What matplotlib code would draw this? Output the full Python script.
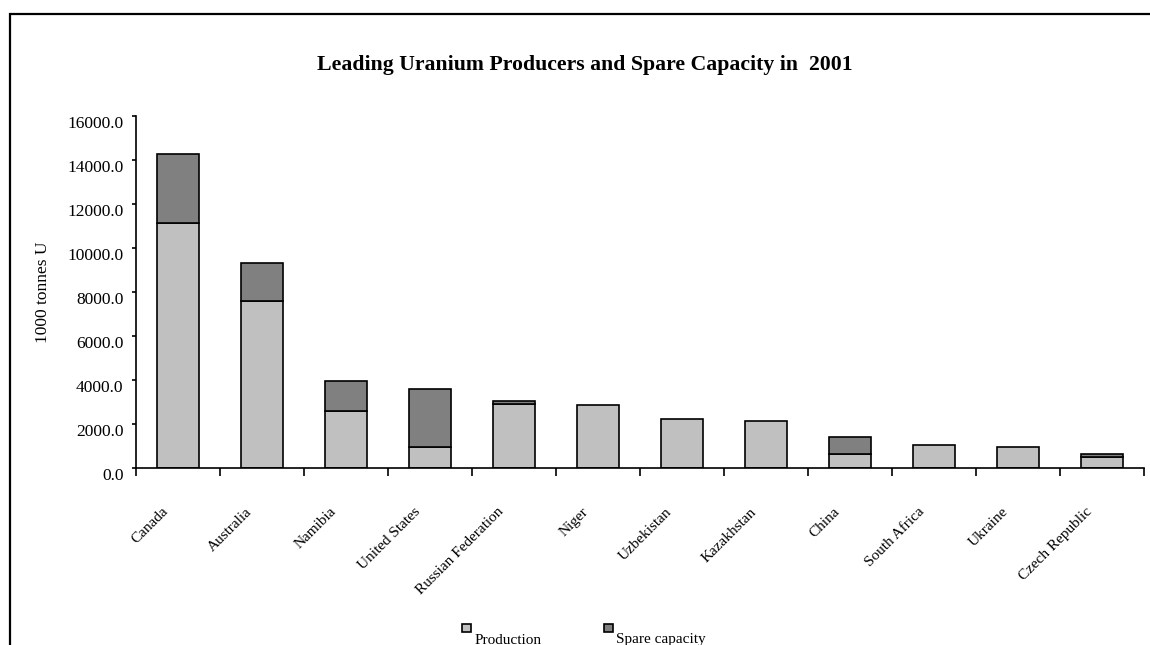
import numpy as np
import matplotlib
matplotlib.use("Agg")
import matplotlib.pyplot as plt
from matplotlib.patches import Rectangle, Patch
from matplotlib.transforms import ScaledTranslation

countries = ["Canada", "Australia", "Namibia", "United States",
             "Russian Federation", "Niger", "Uzbekistan", "Kazakhstan",
             "China", "South Africa", "Ukraine", "Czech Republic"]
production = [11150, 7600, 2590, 970, 2910, 2880, 2240, 2150, 620, 1060, 970, 490]
spare_capacity = [3110, 1730, 1380, 2630, 150, 0, 0, 0, 800, 0, 0, 150]
y_ticks = [0, 2000, 4000, 6000, 8000, 10000, 12000, 14000, 16000]

plt.rcParams['font.family'] = ['Liberation Serif', 'DejaVu Serif']

fig = plt.figure(figsize=(11.5, 6.45), dpi=100)
ax = fig.add_axes([136 / 1150, 1 - 468 / 645, (1144 - 136) / 1150, (468 - 116) / 645])

# outer chart frame, open at the right and bottom edges
fig.add_artist(Rectangle((10 / 1150, -0.1), 1.2, 1 - 14.5 / 645 + 0.1,
                         transform=fig.transFigure, fill=False,
                         edgecolor='black', linewidth=1.6))

x = np.arange(len(countries))
ax.bar(x, production, width=0.5, color='#c0c0c0',
       edgecolor='black', linewidth=1.2)
spare = np.array(spare_capacity)
ax.bar(x[spare > 0], spare[spare > 0], width=0.5,
       bottom=np.array(production)[spare > 0], color='#808080',
       edgecolor='black', linewidth=1.2)

ax.set_xlim(-0.5, len(countries) - 0.5)
ax.set_ylim(0, 16000)
ax.set_yticks(y_ticks)
ax.set_yticklabels([f"{v:.1f}" for v in y_ticks], fontsize=12.5)
ax.tick_params(axis='y', direction='out', length=3, width=1.2, pad=6)
down = ScaledTranslation(0, -6 / 100, fig.dpi_scale_trans)
for lbl in ax.get_yticklabels():
    lbl.set_transform(lbl.get_transform() + down)

# boundary ticks on the x axis, labels at the bar centres
ax.set_xticks(np.arange(len(countries) + 1) - 0.5)
ax.set_xticklabels([])
ax.tick_params(axis='x', which='major', direction='out', length=6, width=1.2)
ax.set_xticks(x, minor=True)
ax.set_xticklabels(countries, minor=True, rotation=45, ha='right',
                   va='center', rotation_mode='anchor', fontsize=11)
ax.tick_params(axis='x', which='minor', length=0, pad=30)
shift = ScaledTranslation(-12 / 100, 0, fig.dpi_scale_trans)
for lbl in ax.get_xticklabels(minor=True):
    lbl.set_transform(lbl.get_transform() + shift)

for side in ['top', 'right']:
    ax.spines[side].set_visible(False)
ax.spines['left'].set_linewidth(1.2)
ax.spines['bottom'].set_linewidth(1.2)

ax.set_ylabel("1000 tonnes U", fontsize=12.5)
ax.yaxis.set_label_coords(-(136 - 51) / 1008, 0.5)

fig.text(585 / 1150, 1 - 65 / 645, "Leading Uranium Producers and Spare Capacity in  2001",
         ha='center', va='center', fontsize=15.7, fontweight='bold')

handles = [Patch(facecolor='#c0c0c0', edgecolor='black', linewidth=1.2),
           Patch(facecolor='#808080', edgecolor='black', linewidth=1.2)]
leg = fig.legend(handles, ["Production", "Spare capacity"], ncol=2,
                 loc='center left', bbox_to_anchor=(462 / 1150, 1 - 630 / 645),
                 frameon=False, fontsize=11, handlelength=0.6, handleheight=0.45,
                 handletextpad=0.2, columnspacing=4.1, borderpad=0, borderaxespad=0)
for t in leg.get_texts():
    t.set_va('top')

fig.savefig("out.png", dpi=100)
